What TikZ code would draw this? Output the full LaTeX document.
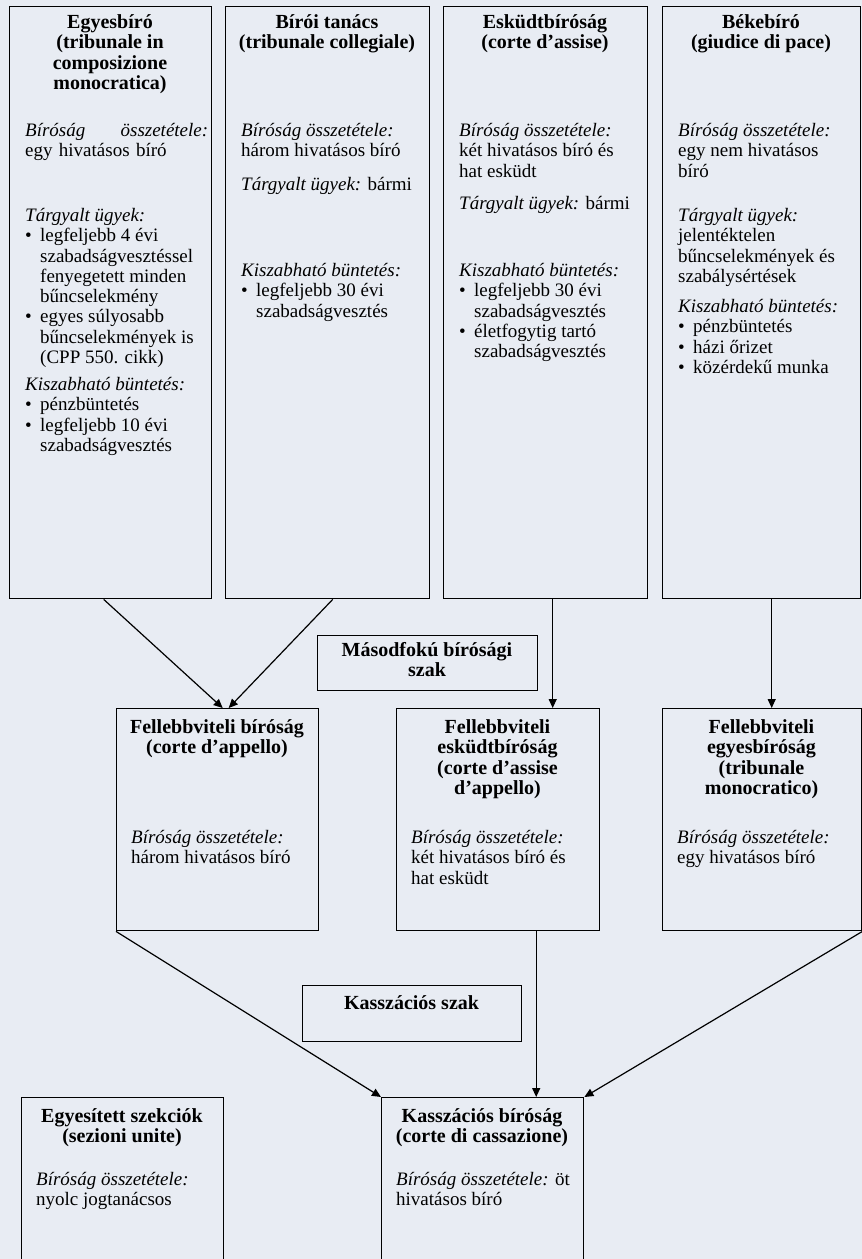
\documentclass[tikz,border=0pt]{standalone}
\usepackage{fontspec}
\setmainfont{Liberation Serif}
\usetikzlibrary{arrows.meta}
\definecolor{bg}{RGB}{232,236,243}
\newcommand\mybul{\makebox[15pt][l]{\textbullet}}
\newcommand\myind{\hspace*{15pt}}
\begin{document}
\begin{tikzpicture}[x=1pt,y=-1pt,
  box/.style={draw, line width=1.4pt, inner sep=0pt, anchor=north west},
  ttl/.style={font=\fontsize{20}{20.3}\selectfont\bfseries, align=center, anchor=north, inner sep=0pt},
  txt/.style={font=\fontsize{19}{20.3}\selectfont, align=left, anchor=north west, inner sep=0pt},
  arr/.style={line width=1.2pt, -{Triangle[length=9pt,width=8pt]}}]
\useasboundingbox (0,0) rectangle (862,1259);
\fill[bg] (0,0) rectangle (862,1259);
\clip (0,0) rectangle (862,1259);
% top row boxes
\node[box, minimum width=202, minimum height=592] (b1) at (9,6) {};
\node[box, minimum width=204, minimum height=592] (b2) at (225,6) {};
\node[box, minimum width=204, minimum height=592] (b3) at (443,6) {};
\node[box, minimum width=198, minimum height=592] (b4) at (662,6) {};
% second level
\node[box, minimum width=220, minimum height=55] (msz) at (317,635) {};
\node[box, minimum width=202, minimum height=222] (fb) at (116,708) {};
\node[box, minimum width=203, minimum height=222] (fe) at (396,708) {};
\node[box, minimum width=199, minimum height=222] (fg) at (662,708) {};
% third level
\node[box, minimum width=219, minimum height=56] (ksz) at (302,985) {};
\node[box, minimum width=202, minimum height=180] (es) at (21,1097) {};
\node[box, minimum width=202, minimum height=180] (kb) at (381,1097) {};
% box 1
\node[ttl] (b1t) at (110,14) {\strut Egyesbíró\\(tribunale in\\composizione\\monocratica)};
\node[txt, text width=183] (b1a) at (25,122) {\strut\textit{Bíróság}\hfill\textit{összetétele:}\\egy hivatásos bíró};
\node[txt] (b1b) at (25,207) {\strut\textit{Tárgyalt ügyek:}\\\mybul legfeljebb 4 évi\\\myind szabadságvesztéssel\\\myind fenyegetett minden\\\myind bűncselekmény\\\mybul egyes súlyosabb\\\myind bűncselekmények is\\\myind (CPP 550. cikk)};
\node[txt] (b1c) at (25,376) {\strut\textit{Kiszabható büntetés:}\\\mybul pénzbüntetés\\\mybul legfeljebb 10 évi\\\myind szabadságvesztés};
% box 2
\node[ttl] (b2t) at (327,14) {\strut Bírói tanács\\(tribunale collegiale)};
\node[txt] (b2a) at (241,122) {\strut\textit{Bíróság összetétele:}\\három hivatásos bíró};
\node[txt] (b2b) at (241,176) {\strut\textit{Tárgyalt ügyek:} bármi};
\node[txt] (b2c) at (241,262) {\strut\textit{Kiszabható büntetés:}\\\mybul legfeljebb 30 évi\\\myind szabadságvesztés};
% box 3
\node[ttl] (b3t) at (545,14) {\strut Esküdtbíróság\\(corte d’assise)};
\node[txt] (b3a) at (459,122) {\strut\textit{Bíróság összetétele:}\\két hivatásos bíró és\\hat esküdt};
\node[txt] (b3b) at (459,195) {\strut\textit{Tárgyalt ügyek:} bármi};
\node[txt] (b3c) at (459,262) {\strut\textit{Kiszabható büntetés:}\\\mybul legfeljebb 30 évi\\\myind szabadságvesztés\\\mybul életfogytig tartó\\\myind szabadságvesztés};
% box 4
\node[ttl] (b4t) at (761,14) {\strut Békebíró\\(giudice di pace)};
\node[txt] (b4a) at (678,122) {\strut\textit{Bíróság összetétele:}\\egy nem hivatásos\\bíró};
\node[txt] (b4b) at (678,207) {\strut\textit{Tárgyalt ügyek:}\\jelentéktelen\\bűncselekmények és\\szabálysértések};
\node[txt] (b4c) at (678,298) {\strut\textit{Kiszabható büntetés:}\\\mybul pénzbüntetés\\\mybul házi őrizet\\\mybul közérdekű munka};
% second level texts
\node[ttl] (mszt) at (427,642) {\strut Másodfokú bírósági\\szak};
\node[ttl] (fbt) at (217,719) {\strut Fellebbviteli bíróság\\(corte d’appello)};
\node[txt] (fba) at (131,829) {\strut\textit{Bíróság összetétele:}\\három hivatásos bíró};
\node[ttl] (fet) at (497.5,719) {\strut Fellebbviteli\\esküdtbíróság\\(corte d’assise\\d’appello)};
\node[txt] (fea) at (411,829) {\strut\textit{Bíróság összetétele:}\\két hivatásos bíró és\\hat esküdt};
\node[ttl] (fgt) at (761.5,719) {\strut Fellebbviteli\\egyesbíróság\\(tribunale\\monocratico)};
\node[txt] (fga) at (677,829) {\strut\textit{Bíróság összetétele:}\\egy hivatásos bíró};
% third level texts
\node[ttl] (kszt) at (411.5,995) {\strut Kasszációs szak};
\node[ttl] (est) at (122,1108) {\strut Egyesített szekciók\\(sezioni unite)};
\node[txt] (esa) at (36,1171) {\strut\textit{Bíróság összetétele:}\\nyolc jogtanácsos};
\node[ttl] (kbt) at (482,1108) {\strut Kasszációs bíróság\\(corte di cassazione)};
\node[txt] (kba) at (396,1171) {\strut\textit{Bíróság összetétele:} öt\\hivatásos bíró};
% connectors
\draw[arr] ([xshift=-7pt]b1.south) -- ([xshift=5pt]fb.north);
\draw[arr] ([xshift=5pt]b2.south) -- ([xshift=11pt]fb.north);
\draw[arr] ([xshift=7pt]b3.south) -- ([xshift=7pt]b3.south |- fe.north);
\draw[arr] ([xshift=10pt]b4.south) -- ([xshift=10pt]b4.south |- fg.north);
\draw[arr] (fb.south west) -- (kb.north west);
\draw[arr] ([xshift=38pt]fe.south) -- ([xshift=38pt]fe.south |- kb.north);
\draw[arr] (fg.south east) -- (kb.north east);
\end{tikzpicture}
\end{document}
